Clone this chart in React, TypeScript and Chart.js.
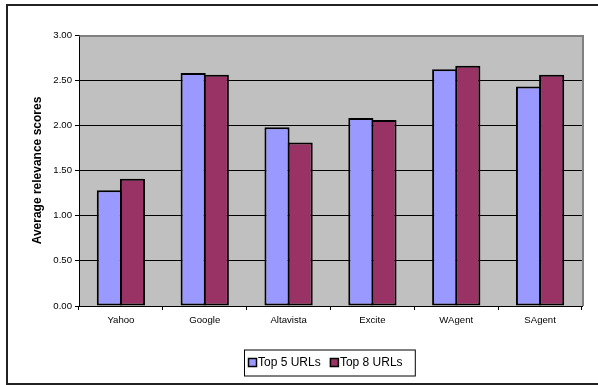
import React, { useEffect, useRef } from "react";
import { Chart, registerables } from "chart.js";

Chart.register(...registerables);

const categories = ["Yahoo", "Google", "Altavista", "Excite", "WAgent", "SAgent"];
const top5Values = [1.28, 2.58, 1.98, 2.08, 2.62, 2.43];
const top8Values = [1.41, 2.56, 1.81, 2.06, 2.66, 2.56];
const seriesNames = ["Top 5 URLs", "Top 8 URLs"];
const seriesColors = ["#9999FF", "#993366"];
const yTickMin = 0;
const yTickMax = 3;
const yTickStep = 0.5;
const yTitle = "Average relevance scores";

const FONT = "'Liberation Sans', Arial, sans-serif";

const framePlugin = {
  id: "framePlugin",
  beforeDraw(chart: any) {
    const { ctx, chartArea } = chart;
    ctx.save();
    ctx.fillStyle = "#FFFFFF";
    ctx.fillRect(0, 0, chart.width, chart.height);
    ctx.fillStyle = "#C0C0C0";
    ctx.fillRect(chartArea.left, chartArea.top, chartArea.right - chartArea.left, chartArea.bottom - chartArea.top);
    ctx.restore();
  },
  beforeDatasetsDraw(chart: any) {
    const { ctx, chartArea } = chart;
    ctx.save();
    ctx.strokeStyle = "#808080";
    ctx.lineWidth = 2;
    ctx.beginPath();
    ctx.moveTo(chartArea.left + 0.5, chartArea.top + 1);
    ctx.lineTo(chartArea.right + 1, chartArea.top + 1);
    ctx.lineTo(chartArea.right + 1, chartArea.bottom);
    ctx.stroke();
    ctx.restore();
  },
  afterDraw(chart: any) {
    const { ctx } = chart;
    ctx.save();
    // outer frame
    ctx.strokeStyle = "#222222";
    ctx.lineWidth = 2;
    ctx.strokeRect(7, 5, chart.width + 20, 379);

    // legend
    const fontSize = 12;
    ctx.font = `${fontSize}px ${FONT}`;
    const boxLeft = 244;
    const boxTop = 349.5;
    const boxH = 26;
    const cy = boxTop + boxH / 2;
    let x = boxLeft + 4.5;
    const items: { x: number; tx: number }[] = [];
    seriesNames.forEach((name) => {
      const tx = x + 9.5;
      items.push({ x, tx });
      x = tx + ctx.measureText(name).width + 9.7;
    });
    const boxRight = x + 2.5;
    ctx.fillStyle = "#FFFFFF";
    ctx.fillRect(boxLeft, boxTop, boxRight - boxLeft, boxH);
    ctx.strokeStyle = "#000000";
    ctx.lineWidth = 1;
    ctx.strokeRect(boxLeft + 0.5, boxTop + 0.5, boxRight - boxLeft, boxH);
    seriesNames.forEach((name, i) => {
      const it = items[i];
      ctx.fillStyle = seriesColors[i];
      ctx.fillRect(it.x, cy - 4, 8, 8);
      ctx.strokeStyle = "#000000";
      ctx.lineWidth = 1.5;
      ctx.strokeRect(it.x, cy - 4, 8, 8);
      ctx.fillStyle = "#000000";
      ctx.textBaseline = "middle";
      ctx.textAlign = "left";
      ctx.fillText(name, it.tx, cy);
    });
    ctx.restore();
  },
};

export default function App() {
  const canvasRef = useRef<HTMLCanvasElement | null>(null);

  useEffect(() => {
    document.body.style.margin = "0";
    const canvas = canvasRef.current;
    if (!canvas) return;
    Chart.defaults.font.family = FONT;
    Chart.defaults.color = "#000000";
    const chart = new Chart(canvas, {
      type: "bar",
      data: {
        labels: categories,
        datasets: [
          {
            label: seriesNames[0],
            data: top5Values,
            backgroundColor: seriesColors[0],
            borderColor: "#000000",
            borderWidth: 2,
            borderSkipped: false,
          },
          {
            label: seriesNames[1],
            data: top8Values,
            backgroundColor: seriesColors[1],
            borderColor: "#000000",
            borderWidth: 2,
            borderSkipped: false,
          },
        ],
      },
      options: {
        animation: false,
        responsive: false,
        maintainAspectRatio: false,
        layout: { padding: { top: 35, right: 16, left: 0, bottom: 0 } },
        datasets: {
          bar: { categoryPercentage: 0.552, barPercentage: 1.0864 },
        },
        plugins: {
          legend: { display: false },
          tooltip: { enabled: false },
          title: { display: false },
        },
        scales: {
          x: {
            grid: {
              display: true,
              drawOnChartArea: false,
              drawTicks: true,
              tickLength: 4,
              color: "#000000",
              offset: true,
            },
            border: { display: true, color: "#000000", width: 1 },
            ticks: {
              font: { size: 9.6, family: FONT },
              color: "#000000",
              padding: 5,
              maxRotation: 0,
              autoSkip: false,
            },
            afterFit(scale: any) {
              scale.height = 79;
            },
          },
          y: {
            min: yTickMin,
            max: yTickMax,
            grid: {
              color: "#000000",
              lineWidth: 1,
              drawTicks: true,
              tickLength: 4,
            },
            border: { display: true, color: "#000000", width: 1 },
            ticks: {
              stepSize: yTickStep,
              font: { size: 9.6, family: FONT },
              color: "#000000",
              padding: 3,
              callback: (v: any) => Number(v).toFixed(2),
            },
            title: {
              display: true,
              text: yTitle,
              font: { size: 12, weight: "bold", family: FONT },
              color: "#000000",
              padding: { top: 30.3, bottom: 0 },
            },
            afterFit(scale: any) {
              scale.width = 79;
            },
          },
        },
      },
      plugins: [framePlugin],
    });
    return () => {
      chart.destroy();
    };
  }, []);

  return (
    <div style={{ width: 598, height: 385 }}>
      <canvas ref={canvasRef} width={598} height={385} style={{ display: "block" }} />
    </div>
  );
}
